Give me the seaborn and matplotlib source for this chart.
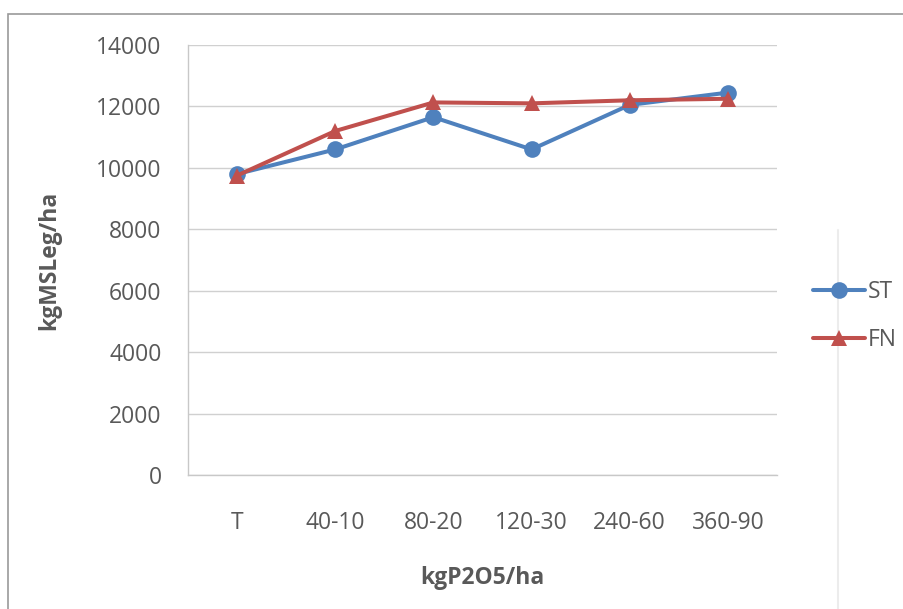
import matplotlib
matplotlib.use("Agg")
import matplotlib.pyplot as plt
from matplotlib.patches import Rectangle
from matplotlib.lines import Line2D
import pandas as pd
import seaborn as sns

# Phosphorus dose treatments (kg P2O5/ha) and dry-matter yield per method
doses = ["T", "40-10", "80-20", "120-30", "240-60", "360-90"]
st_yield = [9800, 10600, 11650, 10600, 12050, 12450]
fn_yield = [9750, 11200, 12130, 12100, 12200, 12250]
series_names = ["ST", "FN"]

df = pd.DataFrame({
    "dose": doses * 2,
    "yield": st_yield + fn_yield,
    "series": [series_names[0]] * len(doses) + [series_names[1]] * len(doses),
})

sns.set_theme(style="white")
plt.rcParams["font.family"] = ["Open Sans", "DejaVu Sans"]

FS = 16.5
TXT = "#595959"
LW = 2.9
MS = 12

fig = plt.figure(figsize=(9.04, 6.09), dpi=100)
ax = fig.add_axes([188 / 904, 1 - 475 / 609, (777 - 188) / 904, (475 - 45) / 609])

palette = {"ST": "#4F81BD", "FN": "#C0504D"}
sns.lineplot(
    data=df, x="dose", y="yield", hue="series", style="series",
    markers={"ST": "o", "FN": "^"}, dashes=False, palette=palette,
    linewidth=LW, markersize=MS, markeredgewidth=0, sort=False, ax=ax,
)

ax.set_xlim(-0.5, len(doses) - 0.5)
ax.set_ylim(0, 14000)
ax.set_yticks(range(0, 14001, 2000))
ax.grid(axis="y", color="#d0d0d0", linewidth=1.0)
ax.set_axisbelow(True)

for side in ("top", "right"):
    ax.spines[side].set_visible(False)
for side in ("left", "bottom"):
    ax.spines[side].set_color("#c8c8c8")
    ax.spines[side].set_linewidth(1.0)

ax.tick_params(axis="both", length=0, labelsize=FS, labelcolor=TXT)
ax.tick_params(axis="y", pad=19)
ax.tick_params(axis="x", pad=26)

ax.set_xlabel("kgP2O5/ha", fontsize=FS, fontweight="bold", color=TXT, labelpad=22)
ax.set_ylabel("kgMSLeg/ha", fontsize=FS, fontweight="bold", color=TXT, labelpad=25)

ax.legend_.remove()
handles = [
    Line2D([], [], color=palette["ST"], marker="o", linewidth=LW, markersize=MS, markeredgewidth=0),
    Line2D([], [], color=palette["FN"], marker="^", linewidth=LW, markersize=MS, markeredgewidth=0),
]
fig.legend(
    handles, series_names, loc="center left", bbox_to_anchor=(792 / 904, 1 - 316 / 609),
    frameon=False, fontsize=FS, handlelength=2.3, handletextpad=0.1,
    labelspacing=1.05, labelcolor=TXT,
)

# chart frame and faint page edge
fig.add_artist(Rectangle((8 / 904, -0.05), 1.05, 1 - 14 / 609 + 0.05,
                         transform=fig.transFigure, fill=False,
                         edgecolor="#9a9a9a", linewidth=1.2, clip_on=False))
fig.add_artist(Line2D([838 / 904, 838 / 904], [0, 1 - 230 / 609],
                      transform=fig.transFigure, color="#ececec", linewidth=1.5))

fig.savefig("out.png", dpi=100)
